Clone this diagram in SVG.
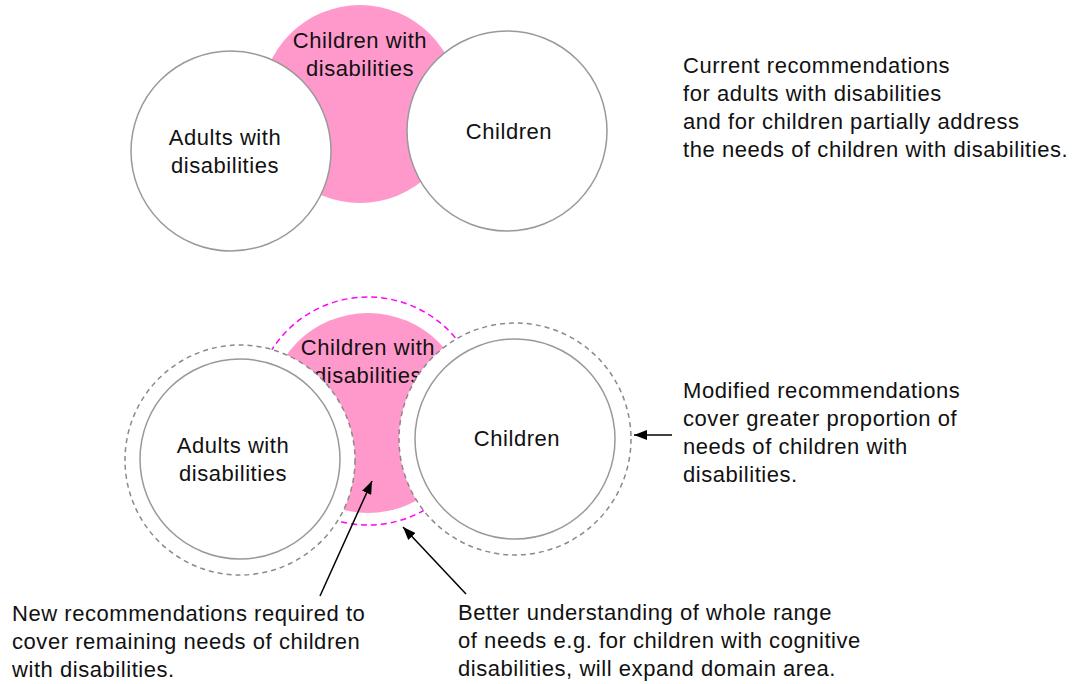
<svg xmlns="http://www.w3.org/2000/svg" width="1073" height="684" viewBox="0 0 1073 684">
<defs>
<style>
text{font-family:"Liberation Sans",Arial,sans-serif;font-size:22px;letter-spacing:0.55px;fill:#111}
.c{text-anchor:middle}
.solid{fill:#fff;stroke:#999;stroke-width:1.5}
.gdash{fill:#fff;stroke:#8a8a8a;stroke-width:1.5;stroke-dasharray:5 4}
.mdash{fill:none;stroke:#ff00ff;stroke-width:1.5;stroke-dasharray:6 4}
.pink{fill:#ff99cc}
.arrow{stroke:#000;stroke-width:1.5;fill:none;marker-end:url(#ah)}
</style>
<marker id="ah" markerUnits="userSpaceOnUse" markerWidth="14" markerHeight="10" refX="13" refY="5" orient="auto">
<path d="M0,0 L13,5 L0,10 Z" fill="#000"/>
</marker>
</defs>
<rect width="1073" height="684" fill="#fff"/>

<g id="top-children-with-disabilities">
<circle class="pink" cx="360" cy="104" r="99"/>
<text class="c" x="360" y="48">Children with</text>
<text class="c" x="360" y="76">disabilities</text>
</g>
<g id="top-adults">
<circle class="solid" cx="231" cy="151" r="100"/>
<text class="c" x="225" y="145">Adults with</text>
<text class="c" x="225" y="173">disabilities</text>
</g>
<g id="top-children">
<circle class="solid" cx="507" cy="131" r="100"/>
<text class="c" x="509" y="139">Children</text>
</g>
<g id="top-note">
<text x="683" y="73">Current recommendations</text>
<text x="683" y="101">for adults with disabilities</text>
<text x="683" y="129">and for children partially address</text>
<text x="683" y="157">the needs of children with disabilities.</text>
</g>

<g id="bottom-children-with-disabilities">
<circle class="mdash" cx="368" cy="411" r="114"/>
<circle class="pink" cx="368" cy="413" r="100"/>
<text class="c" x="368" y="355">Children with</text>
<text class="c" x="368" y="383">disabilities</text>
</g>
<g id="bottom-adults">
<circle class="gdash" cx="240" cy="460" r="115"/>
<circle class="solid" cx="240" cy="459" r="100"/>
<text class="c" x="233" y="453">Adults with</text>
<text class="c" x="233" y="481">disabilities</text>
</g>
<g id="bottom-children">
<circle class="gdash" cx="515" cy="439" r="116"/>
<circle class="solid" cx="515" cy="439" r="100"/>
<text class="c" x="517" y="446">Children</text>
</g>

<g id="connectors">
<line class="arrow" x1="320" y1="596" x2="372" y2="481"/>
<line class="arrow" x1="466" y1="594" x2="403" y2="527"/>
<line class="arrow" x1="672" y1="435" x2="634" y2="435"/>
</g>

<g id="modified-note">
<text x="683" y="398">Modified recommendations</text>
<text x="683" y="426">cover greater proportion of</text>
<text x="683" y="454">needs of children with</text>
<text x="683" y="482">disabilities.</text>
</g>
<g id="new-note">
<text x="12" y="621">New recommendations required to</text>
<text x="12" y="649">cover remaining needs of children</text>
<text x="12" y="677">with disabilities.</text>
</g>
<g id="better-note">
<text x="458" y="620">Better understanding of whole range</text>
<text x="458" y="648">of needs e.g. for children with cognitive</text>
<text x="458" y="676">disabilities, will expand domain area.</text>
</g>
</svg>
